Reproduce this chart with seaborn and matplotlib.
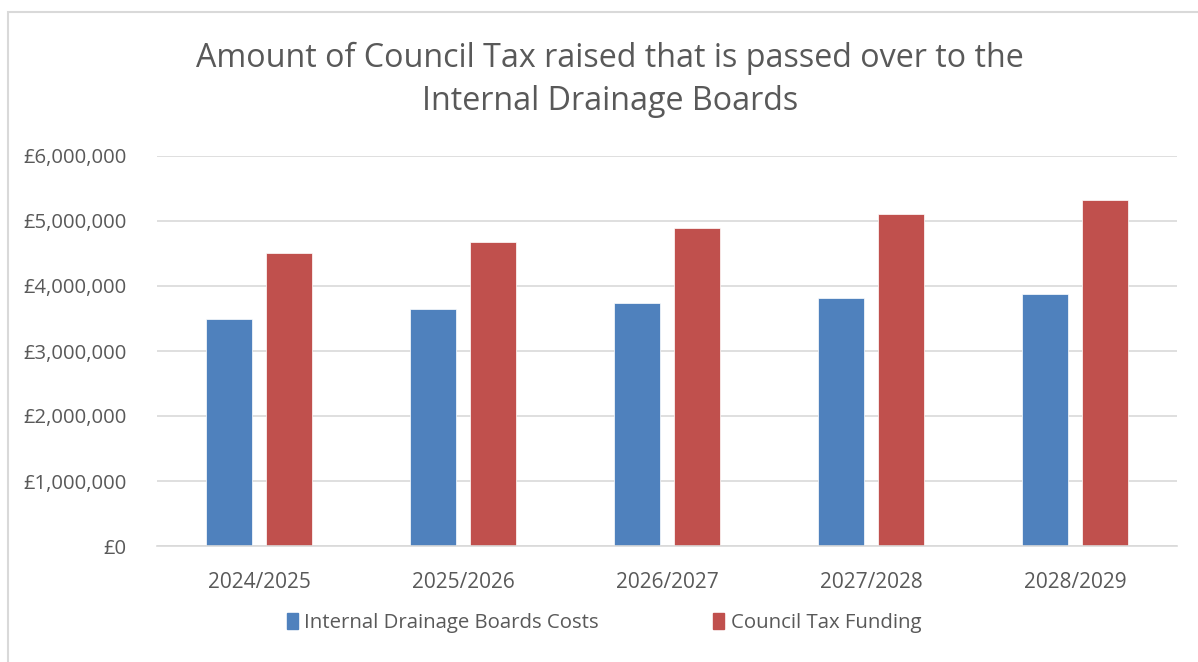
import matplotlib
matplotlib.use("Agg")
import matplotlib.pyplot as plt
import matplotlib.ticker as mticker
from matplotlib.patches import Rectangle
import seaborn as sns
import pandas as pd

years = ["2024/2025", "2025/2026", "2026/2027", "2027/2028", "2028/2029"]
idb_costs = [3500000, 3640000, 3740000, 3810000, 3880000]
council_tax = [4500000, 4680000, 4890000, 5110000, 5330000]
series_names = ["Internal Drainage Boards Costs", "Council Tax Funding"]
colors = ["#4F81BD", "#C0504D"]
title = "Amount of Council Tax raised that is passed over to the\nInternal Drainage Boards"

df = pd.DataFrame({
    "year": years * 2,
    "value": idb_costs + council_tax,
    "series": [series_names[0]] * len(years) + [series_names[1]] * len(years),
})

sns.set_theme(style="white")
plt.rcParams["font.family"] = ["Open Sans", "DejaVu Sans"]
txt = "#595959"

fig = plt.figure(figsize=(11.98, 6.62), dpi=100)
ax = fig.add_axes([157/1198, 1-546/662, 1020/1198, 390/662])

sns.barplot(data=df, x="year", y="value", hue="series", palette=colors,
            width=0.58, gap=0.22, ax=ax, saturation=1, legend=False,
            edgecolor="white", linewidth=0.5)

ax.set_ylim(0, 6000000)
ax.set_xlim(-0.5, len(years) - 0.5)
ax.yaxis.set_major_locator(mticker.MultipleLocator(1000000))
ax.yaxis.set_major_formatter(mticker.FuncFormatter(lambda v, p: "£{:,.0f}".format(v)))
ax.grid(axis="y", color="#D9D9D9", linewidth=1.2)
ax.set_axisbelow(True)
for s in ["top", "right", "left"]:
    ax.spines[s].set_visible(False)
ax.spines["bottom"].set_color("#D9D9D9")
ax.spines["bottom"].set_linewidth(1.2)
ax.tick_params(axis="both", length=0, colors=txt, labelsize=15)
ax.tick_params(axis="y", pad=22, labelsize=14.6)
ax.tick_params(axis="x", pad=19)
ax.set_xlabel("")
ax.set_ylabel("")

fig.text(610/1198, 1-80/662, title, ha="center", va="center", fontsize=23.2,
         color=txt, linespacing=1.42)

handles = [Rectangle((0, 0), 1, 1, color=c) for c in colors]
fig.legend(handles, series_names, loc="center", bbox_to_anchor=(604/1198, 1-623/662),
           ncol=2, frameon=False, fontsize=14.7, labelcolor=txt, handlelength=0.55,
           handleheight=0.8, handletextpad=0.3, columnspacing=5.6)

fig.patches.append(Rectangle((8/1198, -0.1), 1.2, 1-12/662+0.1, transform=fig.transFigure,
                             fill=False, edgecolor="#D9D9D9", linewidth=1.5))

fig.savefig("out.png", dpi=100)
